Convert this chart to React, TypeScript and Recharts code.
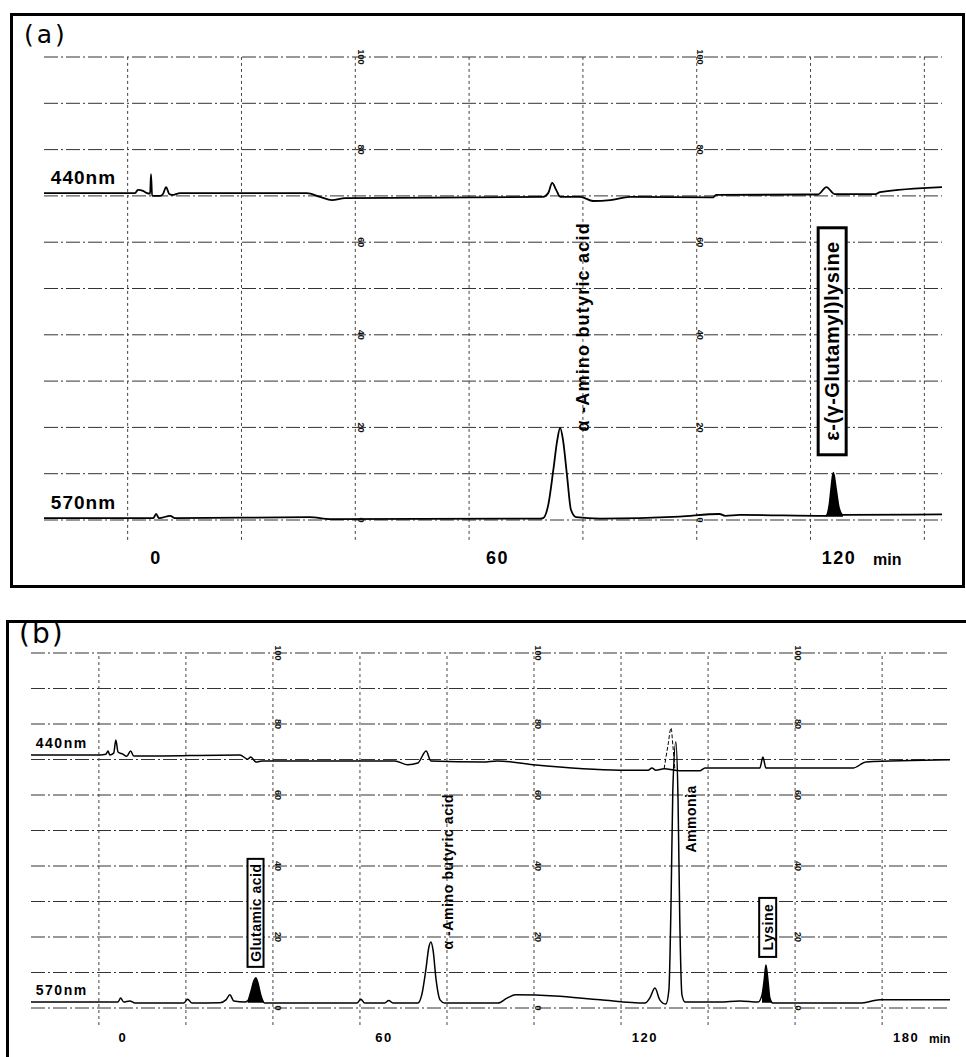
import React from 'react';
import {
  ComposedChart,
  Line,
  Area,
  XAxis,
  YAxis,
  CartesianGrid,
  ReferenceLine,
  ReferenceDot,
} from 'recharts';

const FONT = '"Liberation Sans", Arial, Helvetica, sans-serif';

// ---- panel (a): [time (min), recorder response (%)] ----
const trace440a: [number, number][] = [
  [-19.7, 70.6], [-3.7, 70.6], [-3.2, 71.3], [-2.3, 71.1], [-1.6, 70.6], [-1.05, 70.5],
  [-0.9, 74.7], [-0.7, 70.0], [0.7, 70.0], [1.2, 70.4], [1.76, 71.9], [2.3, 70.4],
  [2.8, 70.2], [4.2, 70.6], [26.5, 70.6], [28.8, 69.8], [30.9, 69.1], [33.2, 69.5],
  [68, 69.8], [68.9, 70.6], [69.6, 72.8], [70.3, 71.3], [71, 69.8], [74.5, 69.8],
  [76.8, 68.9], [79.8, 69.1], [83.3, 69.8], [97.9, 69.7], [98.4, 70.2], [114.2, 70.3],
  [116.3, 70.3], [117.8, 71.9], [119.2, 70.4], [126.5, 70.4], [127.2, 70.8], [138.1, 71.9],
];
const trace570a: [number, number][] = [
  [-19.7, 0.4], [-0.5, 0.4], [0, 1.3], [0.5, 0.4], [2.5, 0.9], [3.3, 0.4], [27, 0.6],
  [30.6, 0.2], [67.5, 0.3], [68, 0.4], [68.9, 3.2], [69.8, 10.8], [70.5, 17.3], [71, 19.9],
  [71.5, 17.3], [72.2, 9.7], [72.9, 2.2], [73.8, 0.6], [78, 0.3], [92, 0.75], [99, 1.3],
  [100, 0.9], [102.6, 1.1], [117.7, 0.9], [118.3, 3.2], [118.6, 6.5], [119, 10.2],
  [119.5, 6.5], [120, 2.6], [120.7, 1.1], [138.1, 1.2],
];
const filledA: [number, number][] = [[117.7, 120.7]];
const gridXa = [-5, 15, 35, 55, 75, 95, 115, 135];
const ticksA = [0, 60, 120];
const scaleColsA = [36, 95.6];

// ---- panel (b) ----
const trace440b: [number, number][] = [
  [-21.1, 71.3], [-5.3, 71.3], [-3.9, 71.5], [-3.4, 72.4], [-3.0, 71.3], [-2.1, 71.8],
  [-1.6, 75.5], [-1.1, 72.1], [0, 71.5], [0.9, 70.9], [1.8, 72.4], [2.5, 71.0], [3.9, 71.0],
  [26.9, 71.3], [28.7, 70.1], [29.4, 70.7], [30.6, 69.3], [32, 69.6], [62.5, 69.6],
  [65.5, 68.5], [67.8, 69.0], [69.7, 72.4], [70.8, 69.6], [82.8, 69.3], [86, 69.6],
  [94.3, 68.5], [114.3, 67.0], [120.7, 67.0], [121.6, 67.6], [122.5, 67.0], [124.4, 67.4],
  [128, 66.8], [132.6, 66.8], [133.8, 67.6], [146.4, 67.6], [147.1, 70.7], [147.8, 67.6],
  [167.8, 67.6], [170.8, 69.3], [190.1, 69.9],
];
const ammonia440b: [number, number][] = [
  [124.4, 67.4], [125.3, 74.1], [126, 78.9], [126.4, 74.1], [126.9, 66.8],
];
const trace570b: [number, number][] = [
  [-21.1, 1.7], [-1.1, 1.7], [-0.5, 2.8], [0.2, 1.7], [1.6, 2.0], [2.8, 1.4], [14, 1.4],
  [14.9, 2.5], [15.9, 1.4], [22.3, 1.5], [23.7, 2.3], [24.6, 3.7], [25.5, 2.0], [28, 1.7],
  [28.7, 2.0], [29.4, 4.5], [30.1, 7.6], [30.6, 8.5], [31, 7.3], [31.7, 3.7], [32.6, 1.4],
  [53.8, 1.4], [54.7, 2.5], [55.6, 1.4], [60.2, 1.4], [61.1, 2.1], [62.1, 1.4], [67.8, 1.4],
  [68.7, 3.7], [69.7, 11.3], [70.3, 16.9], [70.8, 18.6], [71.3, 16.3], [72, 7.9],
  [72.9, 2.3], [74, 1.4], [86.2, 1.4], [88.3, 2.8], [90.3, 3.7], [99.3, 3.4], [109.7, 2.3],
  [120, 1.4], [121.1, 2.8], [122.3, 5.6], [123.4, 2.3], [124.8, 1.1], [125.5, 5.1],
  [126, 30.4], [126.4, 61.4], [127.1, 74.9], [127.6, 58.6], [128, 24.8], [128.5, 3.7],
  [129.2, 1.7], [137.2, 1.7], [141.8, 2.0], [146, 1.7], [146.9, 3.7], [147.4, 7.9],
  [147.8, 12.1], [148.3, 7.3], [148.7, 2.8], [149.4, 1.4], [169.4, 1.4], [174, 2.3],
  [190.1, 2.3],
];
const filledB: [number, number][] = [[28.7, 32.6], [146.5, 149.4]];
const gridXb = [-5.5, 14.5, 34.5, 54.5, 74.5, 94.5, 114.5, 134.5, 154.5, 174.5];
const ticksB = [0, 60, 120, 180];
const scaleColsB = [35.6, 95.4, 155.2];

const yTicks = [0, 10, 20, 30, 40, 50, 60, 70, 80, 90, 100];
const paperScale = [100, 80, 60, 40, 20, 0];

type Tag = {
  text: string;
  t: number;
  v: number;
  size: number;
  spacing: number;
  box?: [number, number];
  boxStroke?: number;
};

const tagsA: Tag[] = [
  { text: 'α -Amino butyric acid', t: 75.0, v: 41.6, size: 18, spacing: 1.2 },
  { text: 'ε-(γ-Glutamyl)lysine', t: 118.8, v: 38.6, size: 20, spacing: 0.5, box: [28, 227], boxStroke: 3 },
];
const tagsB: Tag[] = [
  { text: 'Glutamic acid', t: 30.5, v: 26.8, size: 14, spacing: 0.5, box: [16, 108], boxStroke: 2 },
  { text: 'α -Amino butyric acid', t: 74.7, v: 38.3, size: 14, spacing: 0.6 },
  { text: 'Ammonia', t: 130.6, v: 53.2, size: 14, spacing: 0.5 },
  { text: 'Lysine', t: 148.2, v: 22.7, size: 14, spacing: 0.5, box: [17, 59], boxStroke: 2 },
];

const toPts = (arr: [number, number][]) => arr.map(([t, v]) => ({ t, v }));
const inRanges = (arr: [number, number][], ranges: [number, number][]) =>
  ranges.map((r) => toPts(arr.filter(([t]) => t >= r[0] && t <= r[1])));

const tagShape = (tag: Tag) => (props: any) => {
  const { cx, cy } = props;
  const [w, h] = tag.box || [0, 0];
  return (
    <g transform={`translate(${cx},${cy}) rotate(-90)`}>
      {tag.box && (
        <rect x={-h / 2} y={-w / 2} width={h} height={w} fill="#fff" stroke="#000" strokeWidth={tag.boxStroke} />
      )}
      <text
        x={tag.spacing / 2}
        y={0}
        textAnchor="middle"
        dominantBaseline="central"
        fontFamily={FONT}
        fontWeight="bold"
        fontSize={tag.size}
        letterSpacing={tag.spacing}
        fill="#000"
      >
        {tag.text}
      </text>
    </g>
  );
};

const scaleShape = (label: number) => (props: any) => (
  <text
    transform={`translate(${props.cx},${props.cy}) rotate(90)`}
    textAnchor="middle"
    dominantBaseline="central"
    fontFamily={FONT}
    fontWeight="bold"
    fontSize={9}
    fill="#111"
  >
    {label}
  </text>
);

const nmShape = (text: string, size: number, spacing: number) => (props: any) => (
  <text x={props.cx} y={props.cy} fontFamily={FONT} fontWeight="bold" fontSize={size} letterSpacing={spacing} fill="#000">
    {text}
  </text>
);

const makeTick = (size: number, dy: number, last: number, unitDx: number, unitSize: number) => (props: any) => {
  const { x, y, payload } = props;
  return (
    <g>
      <text x={x} y={y + dy} textAnchor="middle" fontFamily={FONT} fontWeight="bold" fontSize={size} letterSpacing={1.5} fill="#000">
        {payload.value}
      </text>
      {payload.value === last && (
        <text x={x + unitDx} y={y + dy + 1} fontFamily={FONT} fontWeight="bold" fontSize={unitSize} fill="#000">
          min
        </text>
      )}
    </g>
  );
};

type PanelProps = {
  width: number;
  height: number;
  margin: { top: number; right: number; bottom: number; left: number };
  axisHeight: number;
  domain: [number, number];
  ticks: number[];
  tick: (p: any) => React.ReactElement;
  gridX: number[];
  gridBottom: number;
  t440: [number, number][];
  t570: [number, number][];
  dashed440?: [number, number][];
  filled: [number, number][];
  fillBase: number;
  scaleCols: number[];
  tags: Tag[];
  nm: { t: number; v440: number; v570: number; size: number; spacing: number };
  lineWidth: number;
};

const Panel = (p: PanelProps) => (
  <ComposedChart width={p.width} height={p.height} margin={p.margin}>
    <CartesianGrid vertical={false} stroke="#333" strokeWidth={1} strokeDasharray="14 3 2 3" />
    <XAxis
      type="number"
      dataKey="t"
      domain={p.domain}
      ticks={p.ticks}
      allowDataOverflow
      axisLine={false}
      tickLine={false}
      height={p.axisHeight}
      tick={p.tick}
      interval={0}
    />
    <YAxis type="number" domain={[0, 100]} ticks={yTicks} hide allowDataOverflow />
    {p.gridX.map((t) => (
      <ReferenceLine
        key={`gx-${t}`}
        segment={[{ x: t, y: p.gridBottom }, { x: t, y: 100 }]}
        stroke="#444"
        strokeWidth={1}
        strokeDasharray="3 3"
        ifOverflow="visible"
      />
    ))}
    {p.scaleCols.map((t) =>
      paperScale.map((s) => (
        <ReferenceDot key={`sc-${t}-${s}`} x={t} y={s} r={0} ifOverflow="visible" shape={scaleShape(s)} />
      ))
    )}
    {inRanges(p.t570, p.filled).map((pts, i) => (
      <Area
        key={`fill-${i}`}
        data={pts}
        dataKey="v"
        type="monotone"
        baseValue={p.fillBase}
        stroke="none"
        fill="#000"
        fillOpacity={1}
        isAnimationActive={false}
      />
    ))}
    <Line data={toPts(p.t440)} dataKey="v" type="monotone" stroke="#000" strokeWidth={p.lineWidth} dot={false} isAnimationActive={false} />
    {p.dashed440 && (
      <Line data={toPts(p.dashed440)} dataKey="v" type="monotone" stroke="#000" strokeWidth={1} strokeDasharray="4 2" dot={false} isAnimationActive={false} />
    )}
    <Line data={toPts(p.t570)} dataKey="v" type="monotone" stroke="#000" strokeWidth={p.lineWidth} dot={false} isAnimationActive={false} />
    <ReferenceDot x={p.nm.t} y={p.nm.v440} r={0} ifOverflow="visible" shape={nmShape('440nm', p.nm.size, p.nm.spacing)} />
    <ReferenceDot x={p.nm.t} y={p.nm.v570} r={0} ifOverflow="visible" shape={nmShape('570nm', p.nm.size, p.nm.spacing)} />
    {p.tags.map((tag) => (
      <ReferenceDot key={tag.text} x={tag.t} y={tag.v} r={0} ifOverflow="visible" shape={tagShape(tag)} />
    ))}
  </ComposedChart>
);

export default function App() {
  return (
    <div style={{ position: 'absolute', left: 0, top: 0, width: 966, height: 1057, background: '#fff', overflow: 'hidden' }}>
      <div style={{ position: 'absolute', left: 10, top: 13, width: 955, height: 575, border: '3px solid #000', boxSizing: 'border-box' }} />
      <div style={{ position: 'absolute', left: 6, top: 620, width: 980, height: 460, border: '3px solid #000', boxSizing: 'border-box' }} />
      <div style={{ position: 'absolute', left: 0, top: 0 }}>
        <Panel
          width={966}
          height={600}
          margin={{ top: 57, right: 24, bottom: 40, left: 44 }}
          axisHeight={40}
          domain={[-19.7, 138.1]}
          ticks={ticksA}
          tick={makeTick(18, 36, 120, 34, 16)}
          gridX={gridXa}
          gridBottom={-4.3}
          t440={trace440a}
          t570={trace570a}
          filled={filledA}
          fillBase={0.7}
          scaleCols={scaleColsA}
          tags={tagsA}
          nm={{ t: -18.5, v440: 72.6, v570: 2.4, size: 19, spacing: 1 }}
          lineWidth={1.8}
        />
      </div>
      <div style={{ position: 'absolute', left: 0, top: 600 }}>
        <Panel
          width={966}
          height={457}
          margin={{ top: 53, right: 16, bottom: 19, left: 31 }}
          axisHeight={30}
          domain={[-21.1, 190.1]}
          ticks={ticksB}
          tick={makeTick(13, 26, 180, 23, 12)}
          gridX={gridXb}
          gridBottom={-4.8}
          t440={trace440b}
          t570={trace570b}
          dashed440={ammonia440b}
          filled={filledB}
          fillBase={1.5}
          scaleCols={scaleColsB}
          tags={tagsB}
          nm={{ t: -20, v440: 73.2, v570: 3.7, size: 14, spacing: 1.5 }}
          lineWidth={1.5}
        />
      </div>
      <div style={{ position: 'absolute', left: 24, top: 20, fontFamily: '"DejaVu Sans", sans-serif', fontSize: 25, letterSpacing: 3, lineHeight: '30px' }}>
        (a)
      </div>
      <div style={{ position: 'absolute', left: 19, top: 617, fontFamily: '"DejaVu Sans", sans-serif', fontSize: 28, letterSpacing: 2, lineHeight: '34px' }}>
        (b)
      </div>
    </div>
  );
}
